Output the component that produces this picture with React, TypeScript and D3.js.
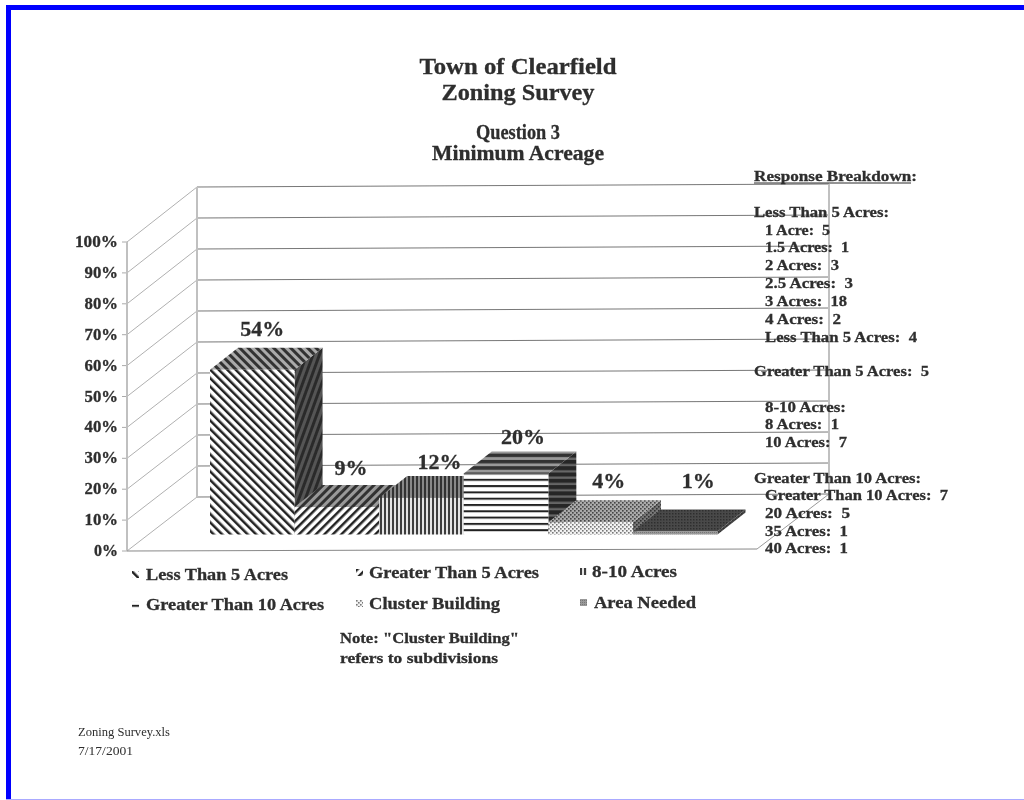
import React from 'react';
import * as d3 from 'd3';

const categories = ['Less Than 5 Acres', 'Greater Than 5 Acres', '8-10 Acres', 'Greater Than 10 Acres', 'Cluster Building', 'Area Needed'];
const percents = [54, 9, 12, 20, 4, 1];
const axisTicks = [0, 10, 20, 30, 40, 50, 60, 70, 80, 90, 100];

const titleLines = [
  { t: 'Town of Clearfield', y: 74, w: 197, s: 24 },
  { t: 'Zoning Survey', y: 100, w: 153, s: 24 },
  { t: 'Question 3', y: 139, w: 84, s: 20 },
  { t: 'Minimum Acreage', y: 160, w: 172, s: 20 },
];
const breakdown = [
  { t: 'Response Breakdown:', x: 754, y: 181, w: 163 },
  { t: 'Less Than 5 Acres:', x: 754, y: 217, w: 135 },
  { t: '1 Acre:  5', x: 765, y: 235, w: 65 },
  { t: '1.5 Acres:  1', x: 765, y: 252, w: 84 },
  { t: '2 Acres:  3', x: 765, y: 270, w: 74 },
  { t: '2.5 Acres:  3', x: 765, y: 288, w: 88 },
  { t: '3 Acres:  18', x: 765, y: 306, w: 82 },
  { t: '4 Acres:  2', x: 765, y: 324, w: 76 },
  { t: 'Less Than 5 Acres:  4', x: 765, y: 342, w: 152 },
  { t: 'Greater Than 5 Acres:  5', x: 754, y: 376, w: 175 },
  { t: '8-10 Acres:', x: 765, y: 412, w: 81 },
  { t: '8 Acres:  1', x: 765, y: 429, w: 74 },
  { t: '10 Acres:  7', x: 765, y: 447, w: 82 },
  { t: 'Greater Than 10 Acres:', x: 754, y: 483, w: 167 },
  { t: 'Greater Than 10 Acres:  7', x: 765, y: 500, w: 183 },
  { t: '20 Acres:  5', x: 765, y: 518, w: 85 },
  { t: '35 Acres:  1', x: 765, y: 536, w: 83 },
  { t: '40 Acres:  1', x: 765, y: 553, w: 83 },
];
const legendPlace = [
  { sx: 132, x: 146, y: 580, w: 142 },
  { sx: 356, x: 369, y: 578, w: 170 },
  { sx: 580, x: 592, y: 577, w: 85 },
  { sx: 132, x: 146, y: 610, w: 178 },
  { sx: 356, x: 369, y: 609, w: 131 },
  { sx: 580, x: 594, y: 608, w: 102 },
];
const labelOffset = [[10, -34], [14, -32], [18, -29], [17, -30], [18, -34], [23, -43]];

const FONT = '"Liberation Serif", serif';
const INK = '#2e2e2e';

// layout of the drawn 3-D box
const backX = 197, frontX = 127, rightFront = 757, rightBack = 829;
const yBack = d3.scaleLinear().domain([0, 100]).range([497, 187]);
const yFront = d3.scaleLinear().domain([0, 100]).range([551, 242]);
const rise = d3.scaleLinear().domain([backX, rightBack]).range([0, -3]);
const yBar = d3.scaleLinear().domain([0, 100]).range([534.5, 229.5]);
const xBar = d3.scaleBand().domain(categories).range([210, 717.5]).padding(0);
const depthX = 28, depthY = -22;
const poly = d3.line();

type Pat = { id: string; w: number; h: number; rot?: number; bg: string; fg: string; rects: number[][] };
const stripeV = (s: number) => [[0, 0, s, 100]];
const stripeH = (s: number) => [[0, 0, 100, s]];
const dots = [[0, 0, 1.6, 1.6], [2, 2, 1.6, 1.6]];
const patterns: Pat[] = [
  { id: 'f0', w: 6, h: 6, rot: -45, bg: '#fff', fg: '#222', rects: stripeV(2.5) },
  { id: 't0', w: 6, h: 6, rot: -45, bg: '#aaa', fg: '#333', rects: stripeV(3) },
  { id: 's0', w: 6, h: 6, rot: 20, bg: '#555', fg: '#2b2b2b', rects: stripeV(3) },
  { id: 'f1', w: 6, h: 6, rot: 45, bg: '#fff', fg: '#222', rects: stripeV(2.5) },
  { id: 't1', w: 6, h: 6, rot: 45, bg: '#999', fg: '#333', rects: stripeV(3) },
  { id: 's1', w: 6, h: 6, rot: 45, bg: '#555', fg: '#2b2b2b', rects: stripeV(3) },
  { id: 'f2', w: 4, h: 4, bg: '#e4e4e4', fg: '#3c3c3c', rects: stripeV(2) },
  { id: 't2', w: 4, h: 4, bg: '#888', fg: '#333', rects: stripeV(2) },
  { id: 's2', w: 4, h: 4, bg: '#555', fg: '#2b2b2b', rects: stripeV(2) },
  { id: 'f3', w: 6.3, h: 6.3, bg: '#fff', fg: '#222', rects: stripeH(2) },
  { id: 't3', w: 6.3, h: 6.3, bg: '#999', fg: '#333', rects: stripeH(3.5) },
  { id: 's3', w: 6.3, h: 6.3, bg: '#666', fg: '#252525', rects: stripeH(4) },
  { id: 'f4', w: 4, h: 4, bg: '#f2f2f2', fg: '#777', rects: dots },
  { id: 't4', w: 4, h: 4, bg: '#aaa', fg: '#444', rects: dots },
  { id: 's4', w: 4, h: 4, bg: '#777', fg: '#333', rects: dots },
  { id: 'f5', w: 2, h: 2, bg: '#999', fg: '#777', rects: [[0, 0, 1, 1]] },
  { id: 't5', w: 3, h: 3, bg: '#4a4a4a', fg: '#2e2e2e', rects: [[0, 0, 1.5, 1.5]] },
  { id: 's5', w: 3, h: 3, bg: '#444', fg: '#2e2e2e', rects: [[0, 0, 1.5, 1.5]] },
];

const Txt = ({ t, x, y, w, s, weight }: any) => (
  <text x={x} y={y} fontSize={s} fontWeight={weight ?? 700} stroke={weight ? 'none' : INK} strokeWidth={0.3}
    textLength={w} lengthAdjust="spacingAndGlyphs" fill={INK} xmlSpace="preserve">{t}</text>
);

export default function App() {
  return (
    <svg width={1024} height={800} viewBox="0 0 1024 800" fontFamily={FONT}
      style={{ position: 'fixed', left: 0, top: 0, display: 'block', background: '#fff' }}>
      <defs>
        <filter id="scan" x="0" y="0" width="1" height="1" filterUnits="objectBoundingBox">
          <feGaussianBlur stdDeviation="0.55" />
        </filter>
        {patterns.map(p => (
          <pattern key={p.id} id={p.id} width={p.w} height={p.h} patternUnits="userSpaceOnUse"
            patternTransform={p.rot ? `rotate(${p.rot})` : undefined}>
            <rect width={p.w} height={p.h} fill={p.bg} />
            {p.rects.map((r, i) => <rect key={i} x={r[0]} y={r[1]} width={r[2]} height={r[3]} fill={p.fg} />)}
          </pattern>
        ))}
      </defs>

      <rect x={0} y={0} width={1024} height={800} fill="#fff" />
      <g filter="url(#scan)">
        {/* walls */}
        <g fill="none" stroke="#8a8a8a" strokeWidth={1}>
          {axisTicks.map(v => (
            <g key={v}>
              <line x1={backX} y1={yBack(v)} x2={rightBack} y2={yBack(v) + rise(rightBack)} stroke="#777" />
              <line x1={frontX} y1={yFront(v)} x2={backX} y2={yBack(v)} stroke="#b0b0b0" />
              <line x1={frontX - 5} y1={yFront(v)} x2={frontX} y2={yFront(v)} stroke="#aaa" />
            </g>
          ))}
          <line x1={backX} y1={yBack(0)} x2={backX} y2={yBack(100)} stroke="#c0c0c0" strokeWidth={2} />
          <line x1={frontX} y1={yFront(0)} x2={frontX} y2={yFront(100)} stroke="#c0c0c0" strokeWidth={2} />
          <line x1={rightBack} y1={yBack(0) + rise(rightBack)} x2={rightBack} y2={yBack(100) + rise(rightBack)} stroke="#c0c0c0" strokeWidth={2} />
          <line x1={frontX} y1={yFront(0)} x2={rightFront} y2={yFront(0) - 2} stroke="#888" />
          <line x1={rightFront} y1={yFront(0) - 2} x2={rightBack} y2={yBack(0) + rise(rightBack)} stroke="#999" />
        </g>

        {/* bars */}
        {categories.map((c, i) => {
          const x0 = xBar(c) as number, x1 = x0 + xBar.bandwidth();
          const yt = yBar(percents[i]), yb = yBar(0);
          return (
            <g key={c}>
              <path fill={`url(#s${i})`} d={poly([[x1, yt], [x1 + depthX, yt + depthY], [x1 + depthX, yb + depthY], [x1, yb]]) + 'Z'} />
              <path fill={`url(#t${i})`} d={poly([[x0, yt], [x0 + depthX, yt + depthY], [x1 + depthX, yt + depthY], [x1, yt]]) + 'Z'} />
              <rect x={x0} y={yt} width={x1 - x0} height={yb - yt} fill={`url(#f${i})`} />
            </g>
          );
        })}

        {/* bar labels */}
        {categories.map((c, i) => (
          <text key={c} x={(xBar(c) as number) + xBar.bandwidth() / 2 + labelOffset[i][0]}
            y={yBar(percents[i]) + labelOffset[i][1]} textAnchor="middle" fontSize={22} fontWeight={700} fill={INK} stroke={INK} strokeWidth={0.3}>
            {percents[i]}%
          </text>
        ))}

        {/* axis labels */}
        {axisTicks.map(v => {
          const label = `${v}%`;
          return (
            <text key={v} x={118 - (label.length - 1) * 9.5 - 14.5} y={yFront(v) + 5} fontSize={17} fontWeight={700}
              fill={INK} stroke={INK} strokeWidth={0.3} textLength={(label.length - 1) * 9.5 + 14.5} lengthAdjust="spacingAndGlyphs">{label}</text>
          );
        })}

        {/* titles */}
        {titleLines.map(l => <Txt key={l.t} t={l.t} x={518 - l.w / 2} y={l.y} w={l.w} s={l.s} />)}

        {/* response breakdown */}
        {breakdown.map(b => <Txt key={b.t} t={b.t} x={b.x} y={b.y} w={b.w} s={15.5} />)}
        <line x1={754} y1={183} x2={911} y2={183} stroke={INK} strokeWidth={1} />

        {/* legend */}
        {categories.map((c, i) => {
          const p = legendPlace[i];
          return (
            <g key={c}>
              <rect x={p.sx} y={p.y - 9} width={7} height={7} fill={`url(#f${i})`} />
              <Txt t={c} x={p.x} y={p.y} w={p.w} s={17.5} />
            </g>
          );
        })}

        <Txt t={'Note: "Cluster Building"'} x={340} y={643} w={179} s={15.5} />
        <Txt t="refers to subdivisions" x={340} y={663} w={158} s={15.5} />

        <Txt t="Zoning Survey.xls" x={78} y={736} w={92} s={12} weight={400} />
        <Txt t="7/17/2001" x={78} y={755} w={55} s={12} weight={400} />
      </g>

      {/* scan border */}
      <rect x={6} y={5} width={1018} height={5} fill="#0000ff" />
      <rect x={6} y={5} width={5} height={795} fill="#0000ff" />
      <rect x={6} y={799} width={1018} height={1} fill="#aaaaff" />
    </svg>
  );
}
